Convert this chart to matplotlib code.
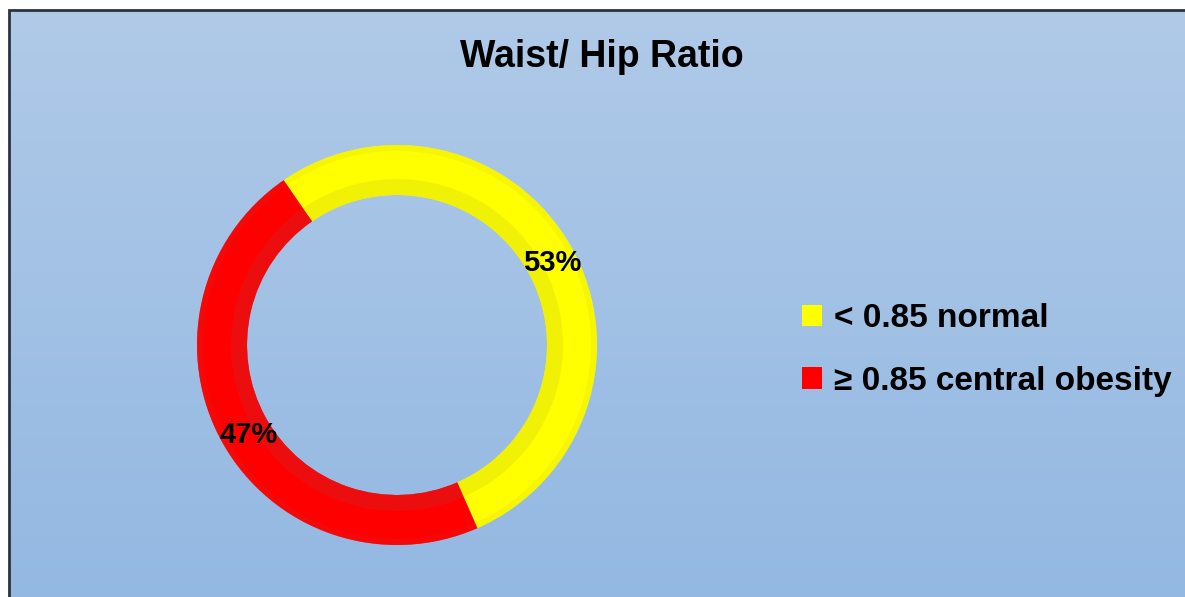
import numpy as np
import matplotlib.pyplot as plt
from matplotlib.patches import Rectangle

# data
categories = ['< 0.85 normal', '\u2265 0.85 central obesity']
shares = [53, 47]
pct_labels = ['53%', '47%']
colors = ['#FFFF00', '#FF0000']
shade_colors = ['#EEEE08', '#E81212']

W, H = 1185, 597
fig = plt.figure(figsize=(W / 100, H / 100), dpi=100)
fig.patch.set_facecolor('white')

# background gradient with dark frame
bg = fig.add_axes([0, 0, 1, 1])
grad = np.linspace(0, 1, 256).reshape(-1, 1)
top = np.array([0xB0, 0xCA, 0xE8]) / 255
bot = np.array([0x93, 0xB8, 0xE2]) / 255
img = top + (bot - top) * grad[:, :, None]
bg.imshow(img, extent=[9, W + 5, -5, H - 10], aspect='auto', origin='upper')
bg.add_patch(Rectangle((9, -5), W, H - 10 + 5, fill=False, edgecolor='#2B3340', linewidth=2))
bg.set_xlim(0, W)
bg.set_ylim(0, H)
bg.axis('off')

font = ['Liberation Sans', 'DejaVu Sans']

fig.text(602 / W, 1 - 57 / H, 'Waist/ Hip Ratio', ha='center', va='center',
         fontsize=27, fontweight='bold', family=font)

# donut
cx, cy, r = 397, 345, 200
ax = fig.add_axes([(cx - r) / W, (H - cy - r) / H, 2 * r / W, 2 * r / H])
start = 124.5
wedges, _ = ax.pie(shares, colors=colors, startangle=start, counterclock=False,
                   radius=1.0, wedgeprops=dict(width=0.25, edgecolor='none'))
ax.pie(shares, colors=shade_colors, startangle=start, counterclock=False,
       radius=0.83, wedgeprops=dict(width=0.08, edgecolor='none', alpha=0.8))
ax.pie(shares, colors=shade_colors, startangle=start, counterclock=False,
       radius=1.0, wedgeprops=dict(width=0.03, edgecolor='none', alpha=0.5))
ax.set_xlim(-1, 1)
ax.set_ylim(-1, 1)
ax.set_aspect('equal')
ax.axis('off')

# percentage labels
ax.text((552 - cx) / r, (cy - 263) / r, pct_labels[0], ha='center', va='center',
        fontsize=21, fontweight='bold', family=font)
ax.text((249 - cx) / r, (cy - 435) / r, pct_labels[1], ha='center', va='center',
        fontsize=21, fontweight='bold', family=font)

leg = fig.legend(wedges, categories, loc='center left',
                 bbox_to_anchor=(772 / W, 1 - 350 / H), frameon=False,
                 prop=dict(family=font, weight='bold', size=24),
                 handlelength=0.6, handleheight=0.6, handletextpad=0.35,
                 labelspacing=0.95)

fig.savefig('out.png', dpi=100)
